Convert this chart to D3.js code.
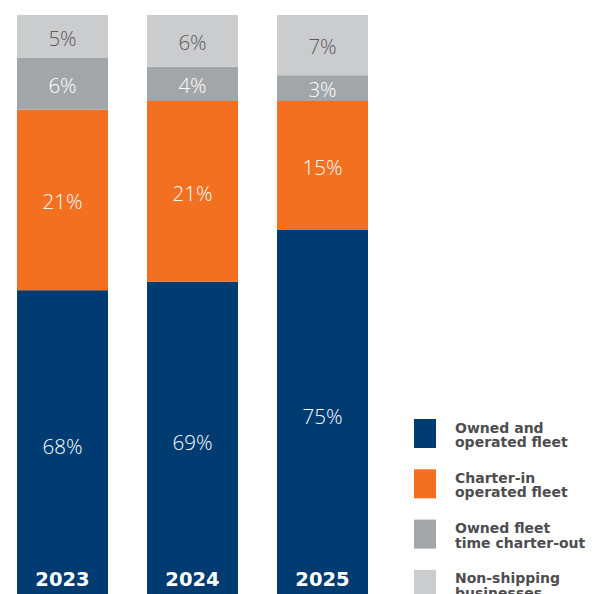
<!DOCTYPE html>
<html>
<head>
<meta charset="utf-8">
<script src="https://cdn.jsdelivr.net/npm/d3@7"></script>
<style>
  html, body { margin: 0; padding: 0; background: #ffffff; }
  svg { display: block; }
</style>
</head>
<body>
<div id="chart"></div>
<script>
// ---- data ----
const years = ["2023", "2024", "2025"];
const seriesNames = ["Owned and operated fleet", "Charter-in operated fleet", "Owned fleet time charter-out", "Non-shipping businesses"];
const legendLines = [["Owned and", "operated fleet"], ["Charter-in", "operated fleet"], ["Owned fleet", "time charter-out"], ["Non-shipping", "businesses"]];
const ownedOperated = [68, 69, 75];
const charterIn = [21, 21, 15];
const timeCharterOut = [6, 4, 3];
const nonShipping = [5, 6, 7];
const colors = ["#003b71", "#f37021", "#a3a6a9", "#cbccce"];
const labelColors = ["#ffffff", "#ffffff", "#ffffff", "#58595b"];

// ---- layout ----
const W = 595, H = 594;
const plotTop = 15, visibleBottom = 600;
const pxPerPct = 8.6;

const svg = d3.select("#chart").append("svg").attr("width", W).attr("height", H);

const rows = years.map((yr, i) => ({
  year: yr,
  "Owned and operated fleet": ownedOperated[i],
  "Charter-in operated fleet": charterIn[i],
  "Owned fleet time charter-out": timeCharterOut[i],
  "Non-shipping businesses": nonShipping[i]
}));
const stacked = d3.stack().keys(seriesNames)(rows);

const x = d3.scaleBand().domain(years).range([17, 368]).paddingInner(0.3).paddingOuter(0);
const y = d3.scaleLinear().domain([0, 100]).range([plotTop + 100 * pxPerPct, plotTop]);

const g = svg.append("g");
stacked.forEach((layer, si) => {
  const lg = g.append("g");
  lg.selectAll("rect").data(layer).join("rect")
    .attr("x", d => x(d.data.year))
    .attr("y", d => y(d[1]))
    .attr("width", x.bandwidth())
    .attr("height", d => y(d[0]) - y(d[1]))
    .attr("fill", colors[si]);
  lg.selectAll("text").data(layer).join("text")
    .attr("x", d => x(d.data.year) + x.bandwidth() / 2)
    .attr("y", d => {
      const y0 = Math.min(y(d[0]), visibleBottom);
      const y1 = y(d[1]);
      return (y0 + y1) / 2;
    })
    .attr("dy", "0.45em")
    .attr("text-anchor", "middle")
    .attr("font-family", "'Open Sans', sans-serif")
    .attr("font-weight", 300)
    .attr("font-size", 20.5)
    .attr("fill", labelColors[si])
    .text(d => (d[1] - d[0]) + "%");
});

// year labels inside the bars at the bottom
g.selectAll("text.year").data(years).join("text")
  .attr("class", "year")
  .attr("x", d => x(d) + x.bandwidth() / 2)
  .attr("y", visibleBottom - 14)
  .attr("text-anchor", "middle")
  .attr("font-family", "'DejaVu Sans', sans-serif")
  .attr("font-weight", "bold")
  .attr("font-size", 19.5)
  .attr("fill", "#ffffff")
  .text(d => d);

// legend
const legend = svg.append("g").attr("transform", "translate(414,419)");
const items = legend.selectAll("g").data(seriesNames).join("g")
  .attr("transform", (d, i) => `translate(0,${i * 50.3})`);
items.append("rect")
  .attr("width", 22).attr("height", 29)
  .attr("fill", (d, i) => colors[i]);
items.each(function(d, i) {
  const t = d3.select(this).append("text")
    .attr("x", 41)
    .attr("font-family", "'DejaVu Sans', sans-serif")
    .attr("font-weight", "bold")
    .attr("font-size", 14)
    .attr("fill", "#4d4d4f");
  legendLines[i].forEach((line, li) => {
    t.append("tspan").attr("x", 41).attr("y", 13.5 + li * 14.5).text(line);
  });
});
</script>
</body>
</html>
